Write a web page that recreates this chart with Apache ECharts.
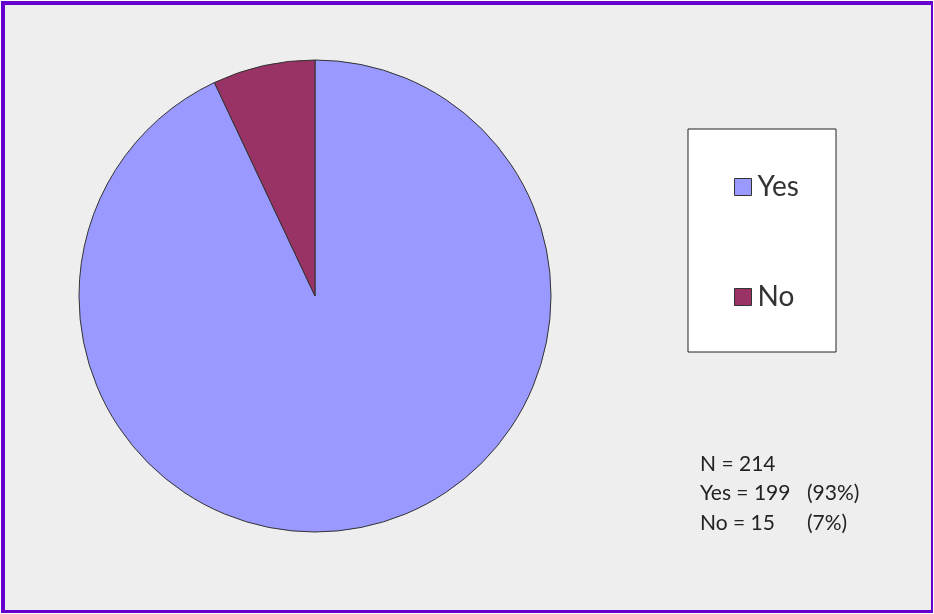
<!DOCTYPE html>
<html>
<head>
<meta charset="utf-8">
<script src="https://cdn.jsdelivr.net/npm/echarts@6/dist/echarts.min.js"></script>
<style>
  html, body { margin: 0; padding: 0; background: #ffffff; }
  #frame {
    position: absolute; left: 1px; top: 1px; width: 932px; height: 612px;
    box-sizing: border-box; background: #eeeeee;
    border-style: solid; border-color: #6600cc;
    border-width: 4px 2px 3px 4px;
  }
  #main { width: 100%; height: 100%; }
</style>
</head>
<body>
<div id="frame"><div id="main"></div></div>
<script>
// answers
var categories = ['Yes', 'No'];
var counts = [199, 15];
var colors = ['#9999ff', '#993366'];

var total = counts[0] + counts[1];
var pct = counts.map(function (v) { return Math.round(v / total * 100); });

var myChart = echarts.init(document.getElementById('main'));
var font = 'Lato, "Open Sans", sans-serif';

option = {
    backgroundColor: '#eeeeee',
    animation: false,
    graphic: [
        {
            type: 'rect',
            shape: { x: 683, y: 124, width: 148, height: 223 },
            style: { fill: '#ffffff', stroke: '#222222', lineWidth: 1 },
            z: 0
        },
        {
            type: 'text', left: 695, top: 449,
            style: { text: 'N = ' + total, font: '21px ' + font, fill: '#222222' }
        },
        {
            type: 'text', left: 695, top: 478,
            style: { text: categories[0] + ' = ' + counts[0], font: '21px ' + font, fill: '#222222' }
        },
        {
            type: 'text', left: 802, top: 478,
            style: { text: '(' + pct[0] + '%)', font: '21px ' + font, fill: '#222222' }
        },
        {
            type: 'text', left: 695, top: 508,
            style: { text: categories[1] + ' = ' + counts[1], font: '21px ' + font, fill: '#222222' }
        },
        {
            type: 'text', left: 802, top: 508,
            style: { text: '(' + pct[1] + '%)', font: '21px ' + font, fill: '#222222' }
        }
    ],
    legend: {
        orient: 'vertical',
        left: 724,
        top: 163,
        icon: 'rect',
        itemWidth: 17,
        itemHeight: 17,
        itemGap: 82,
        z: 5,
        itemStyle: { borderColor: '#333333', borderWidth: 1 },
        textStyle: { fontSize: 28, fontFamily: font, color: '#333333', padding: [0, 0, 0, 1] },
        data: categories
    },
    series: [
        {
            type: 'pie',
            center: [310, 291],
            radius: 236,
            startAngle: 90,
            clockwise: true,
            label: { show: false },
            labelLine: { show: false },
            emphasis: { disabled: true },
            itemStyle: { borderColor: '#333333', borderWidth: 1 },
            data: categories.map(function (c, i) {
                return { name: c, value: counts[i], itemStyle: { color: colors[i] } };
            })
        }
    ]
};
myChart.setOption(option);
</script>
</body>
</html>
